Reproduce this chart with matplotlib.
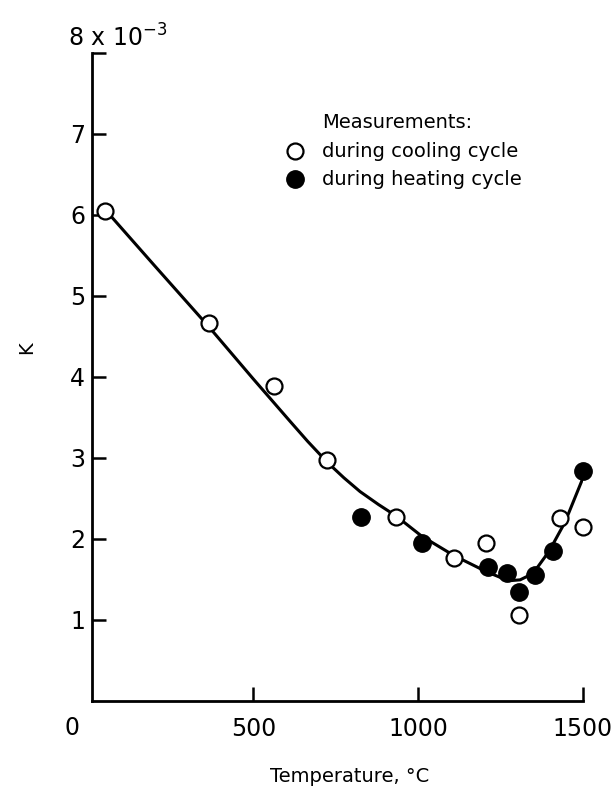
import matplotlib.pyplot as plt

# values (K in units of 1e-3)
cool_temp = [50, 365, 563, 725, 933, 1109, 1206, 1308, 1431, 1500]
cool_k = [6.05, 4.66, 3.89, 2.97, 2.26, 1.76, 1.94, 1.06, 2.25, 2.14]

heat_temp = [827, 1011, 1211, 1269, 1307, 1355, 1409, 1500]
heat_k = [2.26, 1.95, 1.65, 1.57, 1.34, 1.55, 1.85, 2.83]

# faired curve through the data
curve_temp = [70, 200, 366, 500, 611, 665, 725, 775, 824, 880, 933, 1011, 1109,
              1208, 1250, 1279, 1310, 1335, 1360, 1385, 1411, 1446, 1477, 1500]
curve_k = [5.97, 5.37, 4.61, 3.97, 3.45, 3.20, 2.94, 2.75, 2.58, 2.42, 2.28, 2.03, 1.79,
           1.59, 1.52, 1.48, 1.49, 1.54, 1.63, 1.77, 1.94, 2.20, 2.51, 2.74]

x_ticks = [500, 1000, 1500]
y_ticks = [1, 2, 3, 4, 5, 6, 7, 8]
y_tick_labels = ['1', '2', '3', '4', '5', '6', '7', '']

plt.rcParams['font.family'] = ['DejaVu Sans']

fig = plt.figure(figsize=(6.16, 7.96), dpi=100)
W, H = 616, 796
left, right, top, bottom = 92.3, 582.7, 52.7, 700.5
ax = fig.add_axes([left / W, 1 - bottom / H, (right - left) / W, (bottom - top) / H])

# curve and measurements
ax.plot(curve_temp, curve_k, color='black', lw=2.2, zorder=2, solid_joinstyle='round')
ax.plot(cool_temp, cool_k, 'o', ms=11.5, mfc='white', mec='black', mew=1.6,
        zorder=3, clip_on=False)
ax.plot(heat_temp, heat_k, 'o', ms=12.5, mfc='black', mec='black', mew=1,
        zorder=4, clip_on=False)

ax.set_xlim(11, 1500)
ax.set_ylim(0, 8)
ax.set_xticks(x_ticks)
ax.set_xticklabels([str(t) for t in x_ticks])
ax.set_yticks(y_ticks)
ax.set_yticklabels(y_tick_labels)

for s in ['top', 'right']:
    ax.spines[s].set_visible(False)
for s in ['left', 'bottom']:
    ax.spines[s].set_linewidth(2)

ax.tick_params(axis='both', direction='in', length=10, width=1.8, labelsize=17)
ax.tick_params(axis='x', pad=12)
ax.tick_params(axis='y', pad=5)

# corner zero and axis labels
fig.text(72 / W, 1 - 728 / H, '0', fontsize=17, ha='center', va='center')
fig.text(68 / W, 1 - 38 / H, r'8 x 10$^{-3}$', fontsize=17, ha='left', va='center')
fig.text(350 / W, 1 - 777 / H, 'Temperature, °C', fontsize=14, ha='center', va='center')
fig.text(27 / W, 1 - 348 / H, 'K', fontsize=14, ha='center', va='center', rotation=90)

# legend drawn by hand
lx, tx = 0.413, 0.468
ax.text(tx, 0.893, 'Measurements:', transform=ax.transAxes, fontsize=14, va='center')
ax.plot([lx], [0.848], 'o', ms=11.5, mfc='white', mec='black', mew=1.6,
        transform=ax.transAxes, clip_on=False)
ax.text(tx, 0.848, 'during cooling cycle', transform=ax.transAxes, fontsize=14, va='center')
ax.plot([lx], [0.805], 'o', ms=12.5, mfc='black', mec='black',
        transform=ax.transAxes, clip_on=False)
ax.text(tx, 0.805, 'during heating cycle', transform=ax.transAxes, fontsize=14, va='center')

fig.savefig('out.png', dpi=100)
